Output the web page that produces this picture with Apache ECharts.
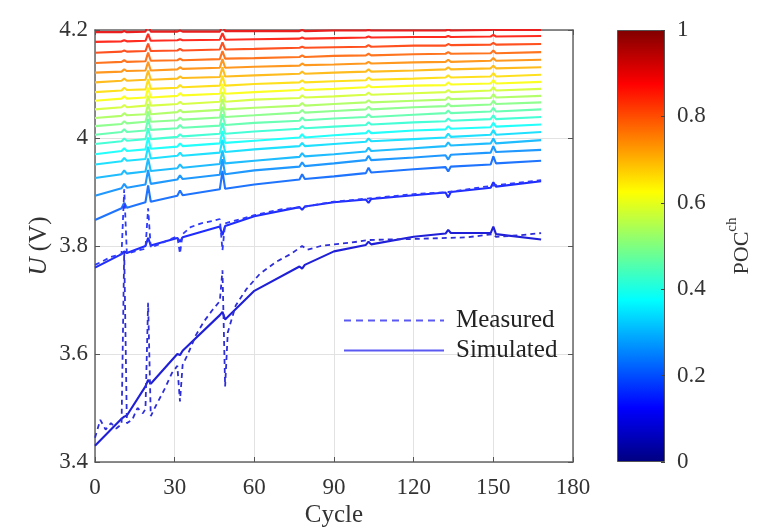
<!DOCTYPE html>
<html>
<head>
<meta charset="utf-8">
<title>U - Cycle</title>
<script src="https://cdn.jsdelivr.net/npm/echarts@6/dist/echarts.min.js"></script>
<style>
html,body{margin:0;padding:0;background:#fff;}
#main{width:780px;height:528px;}
</style>
</head>
<body>
<div id="main"></div>
<script>
// cycles shared by all simulated curves
var cycles = [0,10,11,12,19,20,21,31,32,33,47,48,49,60,77,78,79,90,102,103,104,120,132,133,134,149,150,151,168];

// POC level of each curve, curve v01 (lowest) .. v20 (highest)
var pocLevels = [0.08,0.14,0.22,0.26,0.30,0.34,0.38,0.42,0.46,0.50,0.54,0.58,0.62,0.66,0.70,0.74,0.78,0.82,0.86,0.90];

// simulated voltage (V) at the cycles above
var v20 = [4.196,4.196,4.198,4.196,4.197,4.209,4.197,4.197,4.199,4.197,4.197,4.208,4.198,4.198,4.198,4.200,4.198,4.199,4.199,4.200,4.199,4.199,4.199,4.201,4.199,4.200,4.202,4.200,4.200];
var v19 = [4.178,4.179,4.181,4.179,4.180,4.193,4.180,4.181,4.183,4.181,4.182,4.194,4.182,4.183,4.184,4.186,4.184,4.185,4.186,4.188,4.186,4.187,4.187,4.189,4.187,4.188,4.191,4.188,4.189];
var v18 = [4.158,4.160,4.162,4.160,4.161,4.175,4.161,4.162,4.165,4.162,4.164,4.177,4.164,4.165,4.167,4.169,4.167,4.168,4.169,4.172,4.169,4.171,4.171,4.174,4.172,4.173,4.176,4.173,4.174];
var v17 = [4.139,4.141,4.144,4.141,4.142,4.158,4.143,4.144,4.147,4.144,4.146,4.161,4.147,4.148,4.150,4.153,4.150,4.152,4.153,4.156,4.153,4.155,4.156,4.159,4.156,4.157,4.162,4.157,4.159];
var v16 = [4.121,4.123,4.127,4.124,4.125,4.141,4.125,4.127,4.131,4.128,4.130,4.146,4.130,4.132,4.134,4.138,4.135,4.136,4.138,4.141,4.138,4.140,4.141,4.145,4.141,4.143,4.148,4.143,4.145];
var v15 = [4.103,4.106,4.110,4.106,4.108,4.125,4.108,4.110,4.114,4.111,4.113,4.131,4.114,4.116,4.119,4.123,4.119,4.121,4.123,4.127,4.123,4.125,4.127,4.131,4.127,4.129,4.134,4.129,4.131];
var v14 = [4.085,4.088,4.093,4.089,4.090,4.109,4.091,4.093,4.098,4.094,4.097,4.115,4.097,4.100,4.103,4.107,4.103,4.105,4.107,4.112,4.108,4.110,4.112,4.116,4.112,4.114,4.120,4.114,4.117];
var v13 = [4.069,4.073,4.077,4.073,4.075,4.093,4.075,4.078,4.083,4.079,4.082,4.100,4.082,4.085,4.089,4.093,4.089,4.091,4.094,4.098,4.094,4.097,4.098,4.103,4.099,4.101,4.107,4.101,4.104];
var v12 = [4.053,4.057,4.061,4.057,4.060,4.078,4.060,4.063,4.067,4.063,4.067,4.085,4.067,4.071,4.074,4.079,4.075,4.077,4.080,4.084,4.080,4.083,4.085,4.089,4.085,4.088,4.094,4.088,4.091];
var v11 = [4.037,4.041,4.046,4.042,4.044,4.063,4.044,4.048,4.052,4.048,4.052,4.072,4.053,4.056,4.060,4.065,4.060,4.063,4.066,4.070,4.066,4.069,4.071,4.076,4.072,4.074,4.081,4.075,4.078];
var v10 = [4.022,4.026,4.031,4.027,4.030,4.049,4.030,4.033,4.038,4.034,4.038,4.058,4.039,4.042,4.047,4.052,4.047,4.050,4.053,4.058,4.053,4.057,4.059,4.064,4.059,4.062,4.069,4.063,4.066];
var v09 = [4.006,4.011,4.016,4.011,4.014,4.035,4.015,4.018,4.024,4.019,4.023,4.044,4.024,4.028,4.032,4.038,4.033,4.036,4.039,4.044,4.039,4.043,4.046,4.051,4.046,4.049,4.056,4.049,4.053];
var v08 = [3.989,3.994,3.999,3.995,3.998,4.018,3.998,4.002,4.007,4.003,4.008,4.028,4.008,4.012,4.017,4.022,4.018,4.021,4.024,4.029,4.025,4.029,4.031,4.036,4.032,4.035,4.042,4.035,4.039];
var v07 = [3.970,3.976,3.981,3.976,3.979,4.001,3.980,3.984,3.990,3.985,3.990,4.013,3.991,3.995,4.001,4.007,4.001,4.005,4.009,4.014,4.009,4.014,4.016,4.022,4.017,4.020,4.028,4.021,4.025];
var v06 = [3.951,3.957,3.963,3.958,3.961,3.984,3.962,3.967,3.973,3.967,3.973,3.997,3.974,3.979,3.985,3.991,3.985,3.989,3.993,3.999,3.994,3.998,4.001,4.008,4.002,4.006,4.015,4.006,4.011];
var v05 = [3.926,3.933,3.940,3.934,3.938,3.962,3.939,3.944,3.951,3.945,3.952,3.977,3.953,3.958,3.965,3.972,3.966,3.970,3.975,3.982,3.976,3.981,3.985,3.992,3.986,3.990,3.999,3.990,3.996];
var v04 = [3.893,3.907,3.915,3.908,3.914,3.941,3.915,3.923,3.931,3.924,3.932,3.961,3.933,3.940,3.947,3.955,3.948,3.953,3.959,3.967,3.959,3.964,3.968,3.960,3.969,3.973,3.985,3.974,3.978];
var v03 = [3.848,3.870,3.880,3.871,3.881,3.912,3.882,3.893,3.903,3.894,3.905,3.939,3.906,3.914,3.923,3.933,3.924,3.929,3.935,3.945,3.936,3.942,3.946,3.938,3.947,3.951,3.966,3.953,3.958];
var v02 = [3.760,3.785,3.790,3.787,3.800,3.815,3.801,3.815,3.808,3.816,3.836,3.820,3.837,3.855,3.872,3.867,3.873,3.881,3.886,3.880,3.887,3.894,3.899,3.890,3.900,3.908,3.918,3.910,3.920];
var v01 = [3.430,3.480,3.484,3.486,3.540,3.552,3.545,3.600,3.598,3.606,3.672,3.678,3.664,3.717,3.762,3.758,3.765,3.790,3.802,3.808,3.803,3.817,3.823,3.830,3.824,3.824,3.836,3.822,3.812];

// measured curves (dashed), two lowest levels
var measCyc01 = [0,2,4,6,8,10,11,12,14,16,18,19,20,21,23,26,29,31,32,33,35,38,41,44,47,48,49,50,53,57,62,68,74,78,80,85,90,96,103,110,120,133,140,150,151,160,168];
var meas01 = [3.445,3.478,3.460,3.472,3.462,3.470,3.790,3.472,3.478,3.500,3.490,3.498,3.695,3.485,3.505,3.533,3.565,3.578,3.512,3.580,3.600,3.635,3.660,3.680,3.698,3.755,3.540,3.640,3.690,3.720,3.748,3.770,3.786,3.800,3.793,3.800,3.803,3.806,3.811,3.812,3.813,3.815,3.816,3.822,3.817,3.820,3.824];
var measCyc02 = [0,3,6,10,11,12,15,19,20,21,25,28,31,32,33,36,40,44,47,48,49,55,60,70,78,90,103,120,133,150,168];
var meas02 = [3.765,3.772,3.780,3.785,3.905,3.786,3.790,3.795,3.870,3.797,3.805,3.812,3.818,3.786,3.822,3.835,3.842,3.846,3.850,3.792,3.842,3.850,3.857,3.868,3.872,3.882,3.888,3.896,3.900,3.912,3.922];

var simCurves = [v20,v19,v18,v17,v16,v15,v14,v13,v12,v11,v10,v09,v08,v07,v06,v05,v04,v03,v02,v01];
var measCurves = [[1, measCyc02, meas02], [0, measCyc01, meas01]];

var xTicks = [0, 180, 30];
var yTicks = [3.4, 4.2, 0.2];
var cbTicks = [0, 1, 0.2];

// jet colormap
function clamp(v) { return Math.max(0, Math.min(1, v)); }
function jet(t, mix) {
    var r = clamp(1.5 - Math.abs(4 * t - 3));
    var g = clamp(1.5 - Math.abs(4 * t - 2));
    var b = clamp(1.5 - Math.abs(4 * t - 1));
    var f = function (c) { return Math.round((c + (1 - c) * (mix || 0)) * 255); };
    return 'rgb(' + f(r) + ',' + f(g) + ',' + f(b) + ')';
}
var jetStops = [
    {offset: 0, color: '#000080'}, {offset: 0.125, color: '#0000ff'},
    {offset: 0.375, color: '#00ffff'}, {offset: 0.625, color: '#ffff00'},
    {offset: 0.875, color: '#ff0000'}, {offset: 1, color: '#800000'}
];

var serif = '"Liberation Serif", "Times New Roman", serif';
var frameLine = {show: true, onZero: false, lineStyle: {color: '#666', width: 1.5}};
var tickIn = {show: true, inside: true, length: 5, lineStyle: {color: '#555'}};
var lblStyle = {fontFamily: serif, fontSize: 23, color: '#333'};

var series = [];
simCurves.forEach(function (vals, k) {
    var idx = simCurves.length - 1 - k;   // index into pocLevels
    series.push({
        name: idx <= 1 ? 'Simulated' : 'POC ' + pocLevels[idx],
        type: 'line',
        xAxisIndex: 0, yAxisIndex: 0,
        showSymbol: false, symbol: 'none',
        lineStyle: {width: 2.1, color: jet(pocLevels[idx], 0.12)},
        data: cycles.map(function (c, i) { return [c, vals[i]]; }),
        z: 3
    });
});
measCurves.forEach(function (p) {
    series.push({
        name: 'Measured',
        type: 'line',
        xAxisIndex: 0, yAxisIndex: 0,
        showSymbol: false, symbol: 'none',
        lineStyle: {width: 1.8, type: [5, 4], color: jet(pocLevels[p[0]], 0.18)},
        data: p[1].map(function (c, i) { return [c, p[2][i]]; }),
        z: 4
    });
});
// colorbar
series.push({
    type: 'bar', xAxisIndex: 2, yAxisIndex: 2, silent: true,
    barWidth: '100%', data: [1],
    itemStyle: {
        color: new echarts.graphic.LinearGradient(0, 1, 0, 0, jetStops),
        borderColor: '#555', borderWidth: 1
    }
});

var myChart = echarts.init(document.getElementById('main'));
var option = {
    animation: false,
    backgroundColor: '#fff',
    grid: [
        {left: 95, top: 30, width: 478, height: 432, outerBoundsMode: 'none'},
        {left: 617, top: 30, width: 48, height: 432, outerBoundsMode: 'none'}
    ],
    legend: {
        left: 343, top: 308, orient: 'vertical', padding: 0,
        itemWidth: 100, itemHeight: 14, itemGap: 5,
        textStyle: {fontFamily: serif, fontSize: 25, color: '#222', padding: [0, 0, 0, 7]},
        data: [
            {name: 'Measured', itemStyle: {opacity: 0}, lineStyle: {color: '#5a5af2', width: 2, type: [7, 5]}},
            {name: 'Simulated', itemStyle: {opacity: 0}, lineStyle: {color: '#5a5af2', width: 2, type: 'solid'}}
        ]
    },
    xAxis: [
        {
            type: 'value', gridIndex: 0, min: xTicks[0], max: xTicks[1], interval: xTicks[2],
            axisLine: frameLine, axisTick: tickIn,
            axisLabel: Object.assign({margin: 14}, lblStyle),
            splitLine: {show: true, lineStyle: {color: '#e2e2e2', width: 1}},
            name: 'Cycle', nameLocation: 'middle', nameGap: 41, nameMoveOverlap: false,
            nameTextStyle: {fontFamily: serif, fontSize: 25, color: '#333'}
        },
        {
            type: 'value', gridIndex: 0, position: 'top', min: xTicks[0], max: xTicks[1], interval: xTicks[2],
            axisLine: frameLine, axisTick: tickIn, axisLabel: {show: false}, splitLine: {show: false}
        },
        {type: 'category', gridIndex: 1, data: ['POC'], show: false}
    ],
    yAxis: [
        {
            type: 'value', gridIndex: 0, min: yTicks[0], max: yTicks[1], interval: yTicks[2],
            axisLine: frameLine, axisTick: tickIn,
            axisLabel: Object.assign({margin: 7, verticalAlignMinLabel: 'middle', verticalAlignMaxLabel: 'middle'}, lblStyle),
            splitLine: {show: true, lineStyle: {color: '#e2e2e2', width: 1}},
            name: '{i|U} (V)', nameLocation: 'middle', nameGap: 43, nameRotate: 90, nameMoveOverlap: false,
            nameTextStyle: {
                fontFamily: serif, fontSize: 25, color: '#333',
                rich: {i: {fontFamily: serif, fontSize: 25, fontStyle: 'italic', color: '#333'}}
            }
        },
        {
            type: 'value', gridIndex: 0, position: 'right', min: yTicks[0], max: yTicks[1], interval: yTicks[2],
            axisLine: frameLine, axisTick: tickIn, axisLabel: {show: false}, splitLine: {show: false}
        },
        {
            type: 'value', gridIndex: 1, position: 'right', min: cbTicks[0], max: cbTicks[1], interval: cbTicks[2],
            z: 10,
            axisLine: {show: false},
            axisTick: {show: true, inside: true, length: 4, lineStyle: {color: '#444'}},
            axisLabel: Object.assign({margin: 12, verticalAlignMinLabel: 'middle', verticalAlignMaxLabel: 'middle'}, lblStyle),
            splitLine: {show: false},
            name: '{n|POC}{s|ch}', nameLocation: 'middle', nameGap: 60, nameRotate: 90,
            nameTextStyle: {
                fontFamily: serif, fontSize: 22, color: '#333',
                rich: {
                    n: {fontFamily: serif, fontSize: 22, color: '#333', lineHeight: 28, verticalAlign: 'bottom'},
                    s: {fontFamily: serif, fontSize: 15, color: '#333', lineHeight: 28, verticalAlign: 'top'}
                }
            }
        }
    ],
    series: series
};
myChart.setOption(option);
</script>
</body>
</html>
